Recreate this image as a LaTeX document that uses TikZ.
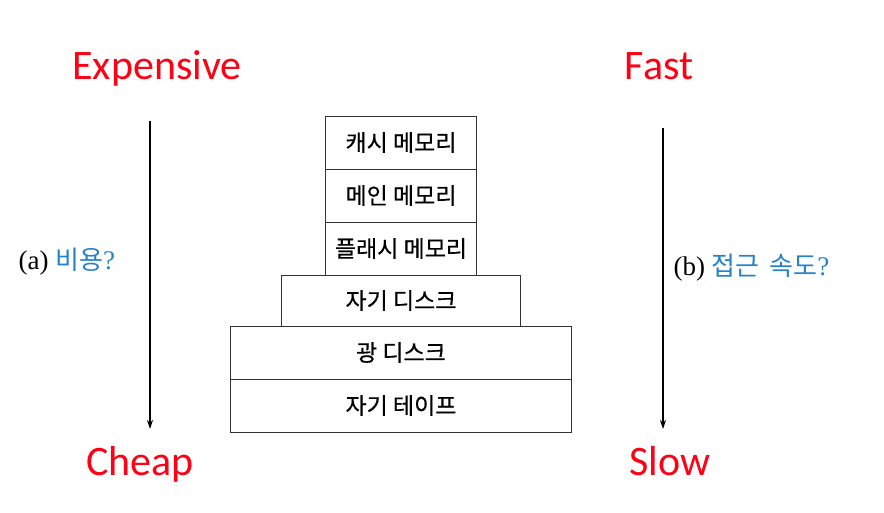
\documentclass[tikz,border=0pt]{standalone}
\usepackage{fontspec}
\setmainfont{Liberation Serif}
\newfontfamily\krfont{Noto Sans CJK KR}
\newfontfamily\krboxfont[FakeBold=0.6]{Noto Sans CJK KR}
\newfontfamily\latfont{Carlito}
\usetikzlibrary{positioning,arrows.meta}
\definecolor{hotred}{RGB}{255,0,20}
\definecolor{askblue}{RGB}{40,130,200}
\tikzset{
  tier/.style={draw=black!80, line width=0.9pt, minimum height=53pt, inner sep=0pt,
    outer sep=0pt, font=\krboxfont\fontsize{23}{23}\selectfont},
  extreme/.style={text=hotred, font=\latfont\fontsize{42}{42}\selectfont, anchor=base},
  trend/.style={-{Stealth[length=9pt,width=6pt]}, line width=1.4pt},
  question/.style={anchor=west, font=\fontsize{27}{27}\selectfont},
}
\begin{document}
\begin{tikzpicture}[x=1pt,y=-1pt]
  \useasboundingbox (0,0) rectangle (884,513);
  % memory pyramid
  \node[tier, minimum width=151pt, anchor=north] (cache) at (401,116) {캐시 메모리};
  \node[tier, minimum width=151pt, below=0pt of cache] (main) {메인 메모리};
  \node[tier, minimum width=151pt, below=0pt of main] (flash) {플래시 메모리};
  \node[tier, minimum width=239pt, minimum height=51pt, below=0pt of flash] (disk) {자기 디스크};
  \node[tier, minimum width=341pt, below=0pt of disk] (optical) {광 디스크};
  \node[tier, minimum width=341pt, below=0pt of optical] (tape) {자기 테이프};
  % cost side
  \node[extreme] (expensive) at (157,80) {Expensive};
  \node[extreme] (cheap) at (140,475) {Cheap};
  \coordinate (costtop) at (150,121);
  \coordinate (costbot) at (150,429);
  \draw[trend] (costtop) -- (costbot);
  \node[question] (costq) at (15,262) {(a) \textcolor{askblue}{{\krfont\fontsize{26}{26}\selectfont 비용}?}};
  % speed side
  \node[extreme] (fast) at (659,80) {Fast};
  \node[extreme] (slow) at (670,475) {Slow};
  \coordinate (speedtop) at (663,128);
  \coordinate (speedbot) at (663,429);
  \draw[trend] (speedtop) -- (speedbot);
  \node[question] (speedq) at (670,268) {(b) \textcolor{askblue}{{\krfont\fontsize{26}{26}\selectfont 접근\hspace{4pt} 속도}?}};
\end{tikzpicture}
\end{document}
